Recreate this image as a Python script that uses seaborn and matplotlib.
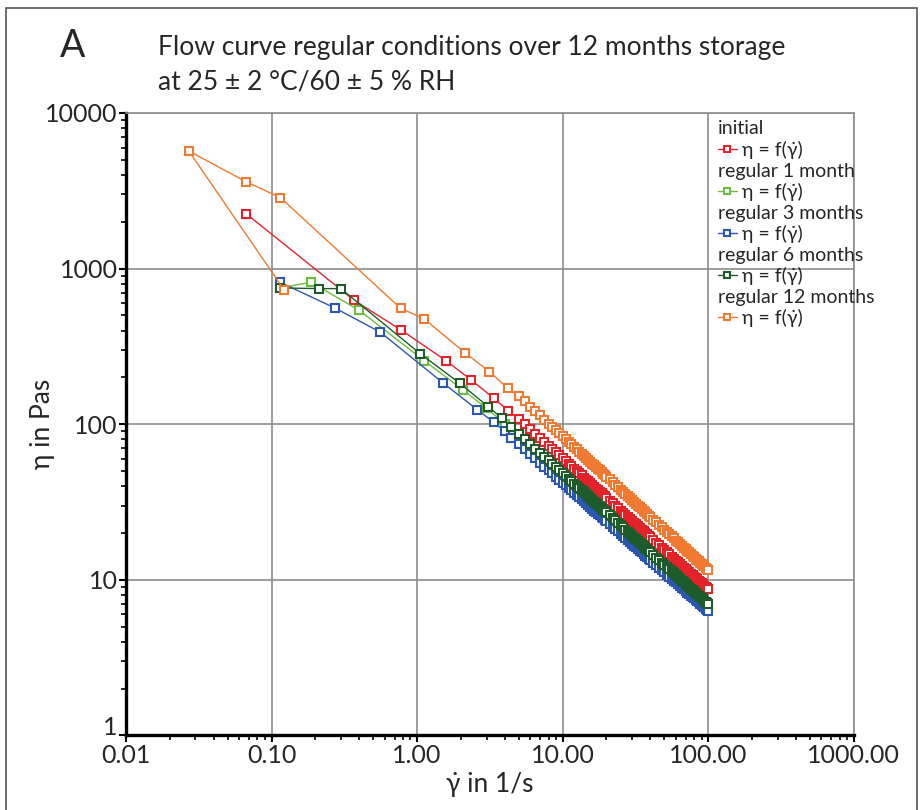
import matplotlib
matplotlib.use('Agg')
import matplotlib.pyplot as plt
from matplotlib.lines import Line2D
from matplotlib.patches import Rectangle
from matplotlib.ticker import FixedLocator, FixedFormatter, LogLocator, NullFormatter
import pandas as pd
import seaborn as sns

# shear-rate ramp shared by all measurements (dense part of the curves)
RAMP_RATES = [5, 5.5, 6, 6.5, 7, 7.5, 8, 8.5, 9, 9.5,
              10, 10.5, 11, 11.5, 12, 12.5, 13, 13.5, 14, 14.5,
              15, 15.5, 16, 16.5, 17, 17.5, 18, 18.5, 19, 19.5,
              20, 21, 22, 23, 24, 25, 26, 27, 28, 29,
              30, 31, 32, 33, 34, 35, 36, 37, 38, 39,
              40, 42, 44, 46, 48, 50, 52, 54, 56, 58,
              60, 62, 64, 66, 68, 70, 72, 74, 76, 78,
              80, 82, 84, 86, 88, 90, 92, 94, 96, 98,
              100]

# initial
INITIAL_RATE = [0.067, 0.37, 0.78, 1.59, 2.36, 3.36, 4.24]
INITIAL_VISC = [2250, 625, 402, 255, 192, 147, 122]
INITIAL_RAMP = [108, 99.8, 92.8, 86.7, 81.5, 76.9, 72.8, 69.2, 65.9, 63.0,
                60.3, 57.9, 55.7, 53.6, 51.7, 50.0, 48.4, 46.9, 45.4, 44.1,
                42.9, 41.7, 40.6, 39.6, 38.6, 37.7, 36.8, 35.9, 35.1, 34.4,
                33.7, 32.3, 31.1, 29.9, 28.9, 27.9, 27.0, 26.1, 25.4, 24.6,
                23.9, 23.3, 22.7, 22.1, 21.5, 21.0, 20.5, 20.1, 19.6, 19.2,
                18.8, 18.0, 17.3, 16.7, 16.1, 15.6, 15.1, 14.6, 14.1, 13.7,
                13.3, 13.0, 12.6, 12.3, 12.0, 11.7, 11.4, 11.2, 10.9, 10.7,
                10.5, 10.3, 10.1, 9.85, 9.67, 9.49, 9.31, 9.15, 8.98, 8.83,
                8.68]

# regular 1 month
M1_RATE = [0.115, 0.186, 0.40, 1.12, 2.07, 2.99, 4.0]
M1_VISC = [751, 818, 540, 256, 166, 127, 101]
M1_RAMP = [84.1, 77.6, 72.2, 67.4, 63.3, 59.8, 56.6, 53.8, 51.3, 49.0,
           46.9, 45.0, 43.3, 41.7, 40.2, 38.9, 37.6, 36.4, 35.3, 34.3,
           33.3, 32.4, 31.6, 30.8, 30.0, 29.3, 28.6, 27.9, 27.3, 26.7,
           26.2, 25.1, 24.2, 23.3, 22.4, 21.7, 21.0, 20.3, 19.7, 19.1,
           18.6, 18.1, 17.6, 17.2, 16.7, 16.3, 15.9, 15.6, 15.2, 14.9,
           14.6, 14.0, 13.5, 13.0, 12.5, 12.1, 11.7, 11.3, 11.0, 10.7,
           10.4, 10.1, 9.83, 9.58, 9.34, 9.11, 8.90, 8.70, 8.51, 8.32,
           8.15, 7.98, 7.82, 7.66, 7.52, 7.38, 7.24, 7.11, 6.99, 6.86,
           6.75]

# regular 3 months
M3_RATE = [0.114, 0.273, 0.56, 1.50, 2.59, 3.36, 4.0, 4.45]
M3_VISC = [818, 558, 390, 185, 124, 103, 90, 82]
M3_RAMP = [74.8, 69.2, 64.4, 60.3, 56.7, 53.5, 50.8, 48.3, 46.1, 44.1,
           42.2, 40.6, 39.0, 37.6, 36.3, 35.1, 34.0, 33.0, 32.0, 31.1,
           30.2, 29.4, 28.7, 27.9, 27.3, 26.6, 26.0, 25.4, 24.9, 24.3,
           23.8, 22.9, 22.0, 21.2, 20.5, 19.8, 19.2, 18.6, 18.1, 17.6,
           17.1, 16.6, 16.2, 15.8, 15.4, 15.0, 14.7, 14.3, 14.0, 13.7,
           13.5, 12.9, 12.4, 12.0, 11.6, 11.2, 10.8, 10.5, 10.2, 9.90,
           9.63, 9.38, 9.13, 8.90, 8.69, 8.48, 8.29, 8.10, 7.93, 7.76,
           7.60, 7.44, 7.30, 7.16, 7.02, 6.89, 6.77, 6.65, 6.54, 6.43,
           6.32]

# regular 6 months
M6_RATE = [0.115, 0.212, 0.299, 1.05, 1.97, 3.07, 3.84, 4.45]
M6_VISC = [751, 744, 744, 284, 183, 130, 109, 96]
M6_RAMP = [87.0, 80.3, 74.6, 69.7, 65.5, 61.8, 58.5, 55.6, 53.0, 50.7,
           48.5, 46.6, 44.8, 43.1, 41.6, 40.2, 38.9, 37.7, 36.5, 35.5,
           34.5, 33.5, 32.7, 31.8, 31.0, 30.3, 29.6, 28.9, 28.3, 27.6,
           27.1, 26.0, 25.0, 24.1, 23.2, 22.4, 21.7, 21.0, 20.4, 19.8,
           19.2, 18.7, 18.2, 17.7, 17.3, 16.9, 16.5, 16.1, 15.8, 15.4,
           15.1, 14.5, 13.9, 13.4, 12.9, 12.5, 12.1, 11.7, 11.4, 11.0,
           10.7, 10.4, 10.2, 9.90, 9.66, 9.42, 9.21, 9.00, 8.79, 8.61,
           8.42, 8.25, 8.08, 7.92, 7.78, 7.63, 7.49, 7.36, 7.22, 7.10,
           6.98]

# regular 12 months (first point measured out of order)
M12_RATE = [0.122, 0.027, 0.067, 0.115, 0.77, 1.12, 2.13, 3.14, 4.2]
M12_VISC = [730, 5700, 3610, 2860, 556, 475, 288, 218, 170]
M12_RAMP = [152, 140, 130, 121, 114, 107, 101, 96.2, 91.6, 87.4,
            83.7, 80.2, 77.1, 74.2, 71.5, 69.0, 66.8, 64.6, 62.6, 60.8,
            59.0, 57.4, 55.8, 54.4, 53.0, 51.7, 50.5, 49.3, 48.2, 47.1,
            46.1, 44.2, 42.5, 40.9, 39.4, 38.0, 36.8, 35.6, 34.5, 33.5,
            32.5, 31.6, 30.8, 30.0, 29.2, 28.5, 27.8, 27.1, 26.5, 25.9,
            25.4, 24.4, 23.4, 22.5, 21.7, 21.0, 20.3, 19.6, 19.0, 18.5,
            17.9, 17.4, 17.0, 16.5, 16.1, 15.7, 15.3, 15.0, 14.6, 14.3,
            14.0, 13.7, 13.4, 13.2, 12.9, 12.6, 12.4, 12.2, 12.0, 11.7,
            11.6]

SERIES_NAMES = ["initial", "regular 1 month", "regular 3 months",
                "regular 6 months", "regular 12 months"]
SERIES_COLORS = ["#e3222a", "#6cbd3f", "#2c57b0", "#1d5c2a", "#f07a32"]
CURVE_LABEL = "η = f(γ̇)"

X_TICKS = [0.01, 0.1, 1, 10, 100, 1000]
X_TICK_LABELS = ["0.01", "0.10", "1.00", "10.00", "100.00", "1000.00"]
Y_TICKS = [1, 10, 100, 1000, 10000]
Y_TICK_LABELS = ["1", "10", "100", "1000", "10000"]

sns.set_style("white")
plt.rcParams['font.family'] = ['Lato', 'DejaVu Sans']

frames = [
    pd.DataFrame({"rate": INITIAL_RATE + RAMP_RATES, "visc": INITIAL_VISC + INITIAL_RAMP}),
    pd.DataFrame({"rate": M1_RATE + RAMP_RATES, "visc": M1_VISC + M1_RAMP}),
    pd.DataFrame({"rate": M3_RATE + RAMP_RATES, "visc": M3_VISC + M3_RAMP}),
    pd.DataFrame({"rate": M6_RATE + RAMP_RATES, "visc": M6_VISC + M6_RAMP}),
    pd.DataFrame({"rate": M12_RATE + RAMP_RATES, "visc": M12_VISC + M12_RAMP}),
]

fig = plt.figure(figsize=(9.23, 8.10), dpi=100)
ax = fig.add_axes([0.1365, 0.092, 0.7885, 0.7685])
ax.set_xscale('log')
ax.set_yscale('log')

for color, df in zip(SERIES_COLORS, frames):
    sns.lineplot(data=df, x="rate", y="visc", ax=ax, sort=False, estimator=None,
                 color=color, lw=1.0, marker="s", ms=5.2, mfc="white",
                 mec=color, mew=1.5, label=CURVE_LABEL)

ax.set_xlim(0.01, 1000)
ax.set_ylim(1, 10000)

ax.xaxis.set_major_locator(FixedLocator(X_TICKS))
ax.xaxis.set_major_formatter(FixedFormatter(X_TICK_LABELS))
ax.yaxis.set_major_locator(FixedLocator(Y_TICKS))
ax.yaxis.set_major_formatter(FixedFormatter(Y_TICK_LABELS))
for axis in (ax.xaxis, ax.yaxis):
    axis.set_minor_locator(LogLocator(base=10, subs=range(2, 10)))
    axis.set_minor_formatter(NullFormatter())

ax.tick_params(which='major', direction='out', length=5, width=1.5,
               color='black', labelsize=18, pad=1)
ax.tick_params(which='minor', direction='out', length=3.5, width=1.2, color='black')
ax.tick_params(axis='x', which='both', bottom=True)
ax.tick_params(axis='y', which='both', left=True)
# the "1" sits just above the x axis
ax.yaxis.get_major_ticks()[0].label1.set_verticalalignment('baseline')

ax.grid(True, which='major', color='#8c8c8c', lw=1.2)
for side in ('left', 'bottom'):
    ax.spines[side].set_color('black')
    ax.spines[side].set_linewidth(2.4)
for side in ('top', 'right'):
    ax.spines[side].set_color('#8c8c8c')
    ax.spines[side].set_linewidth(1.2)

ax.set_xlabel("γ̇ in 1/s", fontsize=19, labelpad=4)
ax.set_ylabel("η in Pas", fontsize=19, labelpad=-7)

# legend: storage time as header row, curve handle underneath
handles, _ = ax.get_legend_handles_labels()
leg_handles, leg_labels = [], []
for name, h in zip(SERIES_NAMES, handles):
    leg_handles += [Line2D([], [], ls='none'), h]
    leg_labels += [name, CURVE_LABEL]
leg_fs = 14
leg = ax.legend(leg_handles, leg_labels, loc='upper left',
                bbox_to_anchor=(0.813, 0.988), frameon=False, fontsize=leg_fs,
                handlelength=1.0, handletextpad=0.25, labelspacing=0.18,
                borderpad=0, borderaxespad=0, markerscale=0.8)
shift = (1.0 + 0.25) * leg_fs * fig.dpi / 72
for t in leg.get_texts()[::2]:
    t.set_x(-shift)

fig.text(0.065, 0.9296, "A", fontsize=27, va='baseline')
fig.text(0.171, 0.932, "Flow curve regular conditions over 12 months storage",
         fontsize=19, va='baseline')
fig.text(0.171, 0.889, "at 25 ± 2 °C/60 ± 5 % RH", fontsize=19, va='baseline')

fig.add_artist(Rectangle((0.006, -0.01), 0.988, 1.0, transform=fig.transFigure,
                         fill=False, ec='#555555', lw=1.2))

fig.savefig("out.png", dpi=100)
